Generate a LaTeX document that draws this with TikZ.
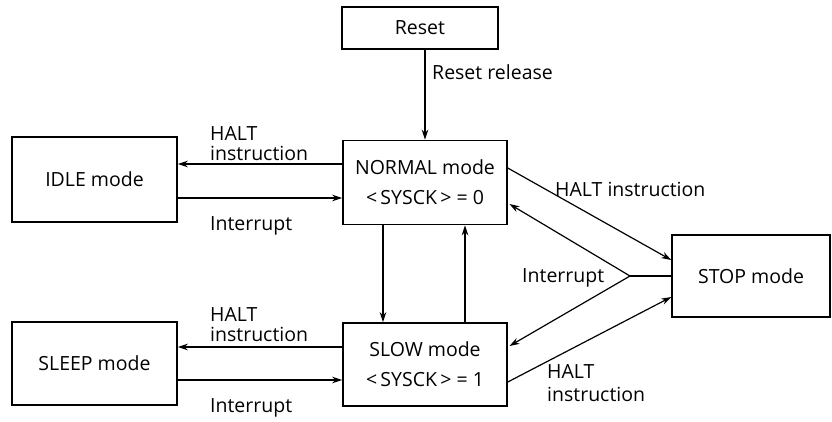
\documentclass[tikz,border=0pt]{standalone}
\usepackage{fontspec}
\setmainfont{Open Sans}
\usetikzlibrary{arrows.meta}
\begin{document}
\begin{tikzpicture}[x=1pt,y=-1pt,
  every node/.style={font=\fontsize{19.5}{20}\selectfont, inner sep=0pt},
  modebox/.style={draw, line width=1.5pt, align=center},
  arr/.style={line width=1.2pt, -{Stealth[length=10pt,width=6.5pt]}},
  plain/.style={line width=1.2pt},
  lbl/.style={anchor=west, align=left}]
\useasboundingbox (0,0) rectangle (832,421);

% mode boxes
\node[modebox, minimum width=156pt, minimum height=42pt] (reset) at (420,28) {Reset};
\node[modebox, minimum width=165pt, minimum height=85pt] (idle) at (94.5,179.5) {IDLE mode};
\node[modebox, minimum width=164pt, minimum height=84pt] (normal) at (425,182.5)
  {NORMAL mode\\[10pt]<\,SYSCK\,> = 0};
\node[modebox, minimum width=164pt, minimum height=83pt] (slow) at (425,364.5)
  {SLOW mode\\[10pt]<\,SYSCK\,> = 1};
\node[modebox, minimum width=165pt, minimum height=83pt] (sleep) at (94.5,363.5) {SLEEP mode};
\node[modebox, minimum width=158pt, minimum height=82pt] (stop) at (751,276) {STOP mode};

% reference heights for the connectors
\coordinate (rx) at (425,0);
\coordinate (yIh) at (0,164);
\coordinate (yIi) at (0,198);
\coordinate (ySh) at (0,347);
\coordinate (ySi) at (0,380);
\coordinate (xd) at (383,0);
\coordinate (xu) at (465,0);
\coordinate (nHo) at (0,168);
\coordinate (nIi) at (0,203);
\coordinate (sIi) at (0,347);
\coordinate (sHo) at (0,382);
\coordinate (tH1) at (0,260);
\coordinate (tH2) at (0,297);
\coordinate (jn) at (630,276);

% reset release
\draw[arr] (reset.south -| rx) -- (normal.north -| rx);
\node[lbl] (lrr) at (432,72) {Reset release};

% NORMAL <-> IDLE
\draw[arr] (normal.west |- yIh) -- (idle.east |- yIh);
\draw[arr] (idle.east |- yIi) -- (normal.west |- yIi);
\node[lbl] (lih) at (210,143.5) {HALT\\instruction};
\node[lbl] (lii) at (210,226) {Interrupt};

% SLOW <-> SLEEP
\draw[arr] (slow.west |- ySh) -- (sleep.east |- ySh);
\draw[arr] (sleep.east |- ySi) -- (slow.west |- ySi);
\node[lbl] (lsh) at (210,325) {HALT\\instruction};
\node[lbl] (lsi) at (210,408) {Interrupt};

% NORMAL <-> SLOW
\draw[arr] (normal.south -| xd) -- (slow.north -| xd);
\draw[arr] (slow.north -| xu) -- (normal.south -| xu);

% to and from STOP
\draw[arr] (normal.east |- nHo) -- (stop.west |- tH1);
\draw[arr] (slow.east |- sHo) -- (stop.west |- tH2);
\draw[plain] (stop.west |- jn) -- (jn);
\draw[arr, shorten >=2pt] (jn) -- (normal.east |- nIi);
\draw[arr, shorten >=2pt] (jn) -- (slow.east |- sIi);
\node[lbl] (lth) at (555,189) {HALT instruction};
\node[lbl] (lti) at (522,278) {Interrupt};
\node[lbl] (lbh) at (547,383.5) {HALT\\[3pt]instruction};
\end{tikzpicture}
\end{document}
